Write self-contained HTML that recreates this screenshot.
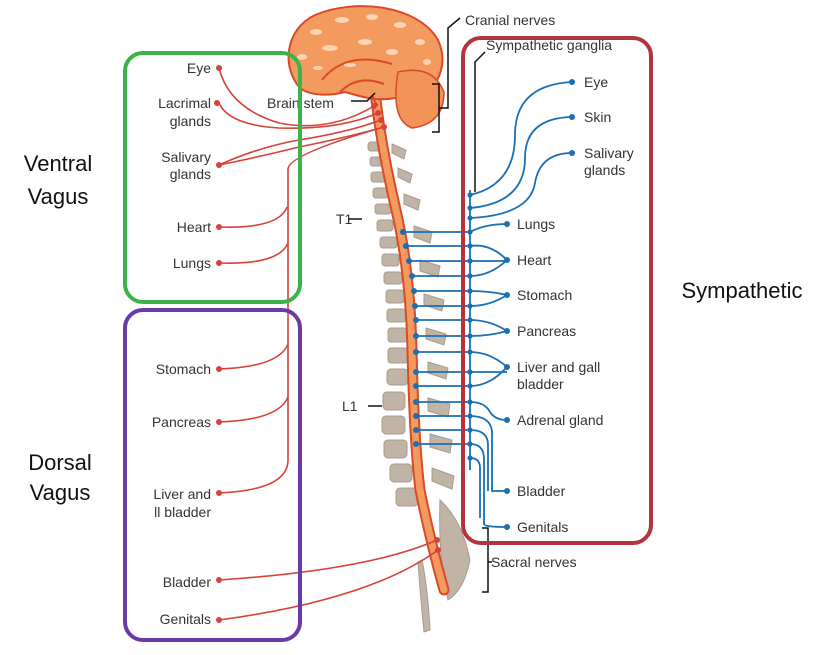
<!DOCTYPE html>
<html><head><meta charset="utf-8"><style>
html,body{margin:0;padding:0;background:#fff;width:837px;height:655px;overflow:hidden}
svg{display:block}
text{font-family:"Liberation Sans",sans-serif;font-size:14px;fill:#333}
.big{font-size:22px;fill:#111}
.r{stroke:#d9413a;stroke-width:1.6;fill:none}
.b{stroke:#1a6fb5;stroke-width:1.8;fill:none}
.v{fill:#bfb4a5;stroke:#a89c8c;stroke-width:1}
</style></head><body>
<svg width="837" height="655" viewBox="0 0 837 655">
<!-- vertebrae -->
<g class="v">
<rect x="368" y="142" width="14" height="9" rx="3"/><rect x="370" y="157" width="14" height="9" rx="3"/>
<rect x="371" y="172" width="15" height="10" rx="3"/><rect x="373" y="188" width="15" height="10" rx="3"/>
<rect x="375" y="204" width="16" height="10" rx="3"/><rect x="377" y="220" width="16" height="11" rx="3"/>
<rect x="380" y="237" width="17" height="11" rx="3"/><rect x="382" y="254" width="17" height="12" rx="3"/>
<rect x="384" y="272" width="18" height="12" rx="3"/><rect x="386" y="290" width="18" height="13" rx="3"/>
<rect x="387" y="309" width="19" height="13" rx="3"/><rect x="388" y="328" width="19" height="14" rx="3"/>
<rect x="388" y="348" width="20" height="15" rx="3"/><rect x="387" y="369" width="21" height="16" rx="4"/>
<rect x="383" y="392" width="22" height="18" rx="4"/><rect x="382" y="416" width="23" height="18" rx="4"/>
<rect x="384" y="440" width="23" height="18" rx="4"/><rect x="390" y="464" width="22" height="18" rx="4"/>
<rect x="396" y="488" width="22" height="18" rx="4"/>
<path d="M392 144 l14 6 l-2 9 l-12-6z M398 168 l14 6 l-2 9 l-12-6z M404 194 l16 6 l-2 10 l-14-6z M414 226 l18 6 l-2 11 l-16-6z M420 260 l20 6 l-2 11 l-18-6z M424 294 l20 6 l-2 11 l-18-6z M426 328 l20 6 l-2 11 l-18-6z M428 362 l20 6 l-2 11 l-18-6z M428 398 l22 6 l-2 13 l-20-6z M430 434 l22 6 l-2 13 l-20-6z M432 468 l22 8 l-2 13 l-20-8z"/>
<path d="M440 500 q22 20 30 60 q-6 30 -22 40 q-10 -40 -8 -100z"/>
<path d="M422 560 q6 30 8 70 l-6 2 q-4-40 -6-70z"/>
</g>
<!-- spinal cord -->
<path d="M376 100 q6 50 20 110 q14 60 16 140 q2 90 8 140 q10 50 24 100" stroke="#d94a2a" stroke-width="11" fill="none" stroke-linecap="round"/>
<path d="M376 100 q6 50 20 110 q14 60 16 140 q2 90 8 140 q10 50 24 100" stroke="#f39a5e" stroke-width="7" fill="none" stroke-linecap="round"/>
<!-- brain -->
<path d="M300 88 C282 68 284 30 315 15 C355 -2 418 5 438 40 C446 58 442 72 436 82 C420 95 405 100 395 98 C375 102 360 96 345 92 C330 96 310 96 300 88z" fill="#f39a5e" stroke="#d94a2a" stroke-width="2"/>
<path d="M398 72 q35 -8 46 20 q0 32 -32 36 q-22 -8 -14 -56z" fill="#f2935a" stroke="#d94a2a" stroke-width="1.5"/>
<path d="M322 80 q24 -30 70 -16 M340 92 q18 -18 44 -8 M372 95 q4 10 6 10" stroke="#d94a2a" stroke-width="2" fill="none"/>
<g fill="#fbd5b5"><ellipse cx="316" cy="32" rx="6" ry="3"/><ellipse cx="342" cy="20" rx="7" ry="3"/><ellipse cx="372" cy="17" rx="6" ry="3"/><ellipse cx="400" cy="25" rx="6" ry="3"/><ellipse cx="420" cy="42" rx="5" ry="3"/><ellipse cx="330" cy="48" rx="8" ry="3"/><ellipse cx="365" cy="42" rx="7" ry="3"/><ellipse cx="302" cy="57" rx="5" ry="3"/><ellipse cx="392" cy="52" rx="6" ry="3"/><ellipse cx="427" cy="62" rx="4" ry="3"/><ellipse cx="350" cy="65" rx="6" ry="2"/><ellipse cx="318" cy="68" rx="5" ry="2"/></g>
<g fill="#d9413a"><circle cx="374" cy="106" r="3"/><circle cx="378" cy="113" r="3"/><circle cx="381" cy="120" r="3"/><circle cx="384" cy="127" r="3"/><circle cx="437" cy="540" r="3"/><circle cx="438" cy="550" r="3"/></g>
<!-- black labels lines -->
<g stroke="#111" stroke-width="1.5" fill="none">
<path d="M432 84 h7 v48 h-7 M439 108 h9 v-80 l12 -10"/>
<path d="M485 52 l-10 10 v130"/>
<path d="M351 101 h16 l8 -8"/>
<path d="M348 219 h14 M368 406 h14"/>
<path d="M482 528 h6 v64 h-6 M488 562 h4"/>
</g>
<text x="465" y="25">Cranial nerves</text>
<text x="486" y="50">Sympathetic ganglia</text>
<text x="267" y="108">Brain stem</text>
<text x="336" y="224">T1</text>
<text x="342" y="411">L1</text>
<text x="491" y="567">Sacral nerves</text>
<!-- red nerves -->
<g class="r">
<path d="M219 68 q10 40 60 55 q50 10 95 -17"/>
<path d="M219 103 q10 22 60 25 q60 2 99 -15"/>
<path d="M219 165 q40 -18 80 -25 q50 -8 82 -20"/>
<path d="M219 165 q40 -8 80 -18 q50 -10 85 -20"/>
<path d="M288 170 q-2 -15 96 -43 M288 170 v290 q0 30 -69 33"/>
<path d="M219 227 q60 2 68 -20 M219 263 q60 2 69 -20 M219 369 q60 -2 69 -25 M219 422 q60 -2 69 -25"/>
<path d="M219 580 q150 -10 218 -40 M219 620 q150 -20 219 -70"/>
</g>
<g fill="#d9413a"><circle cx="219" cy="68" r="3"/><circle cx="217" cy="103" r="3"/><circle cx="219" cy="165" r="3"/><circle cx="219" cy="227" r="3"/><circle cx="219" cy="263" r="3"/><circle cx="219" cy="369" r="3"/><circle cx="219" cy="422" r="3"/><circle cx="219" cy="493" r="3"/><circle cx="219" cy="580" r="3"/><circle cx="219" cy="620" r="3"/></g>
<!-- left labels -->
<g text-anchor="end">
<text x="211" y="73">Eye</text>
<text x="211" y="108">Lacrimal</text><text x="211" y="126">glands</text>
<text x="211" y="162">Salivary</text><text x="211" y="179">glands</text>
<text x="211" y="232">Heart</text><text x="211" y="268">Lungs</text>
<text x="211" y="374">Stomach</text><text x="211" y="427">Pancreas</text>
<text x="211" y="499">Liver and</text><text x="211" y="517">ll bladder</text>
<text x="211" y="587">Bladder</text><text x="211" y="624">Genitals</text>
</g>
<!-- blue sympathetic -->
<g class="b">
<path d="M470 190 v280"/>
<path d="M403 232 h67 M406 246 h64 M409 261 h61 M412 276 h58 M414 291 h56 M415 306 h55 M416 320 h54 M416 336 h54 M416 352 h54 M416 372 h54 M416 386 h54 M416 402 h54 M416 416 h54 M416 430 h54 M416 444 h54"/>
<path d="M470 195 q45 -10 45 -60 q0 -50 57 -53 M470 208 q55 -5 55 -50 q0 -40 47 -41 M470 218 q60 -3 65 -35 q5 -30 37 -30"/>
<path d="M470 232 q15 -8 37 -8 M470 246 q20 -3 37 14 M470 261 h37 M470 276 q20 0 37 -16"/>
<path d="M470 291 q20 0 37 4 M470 306 q20 0 37 -11"/>
<path d="M470 320 q20 0 37 11 M470 336 q20 0 37 -5"/>
<path d="M470 352 q20 0 37 15 M470 372 h37 M470 386 q20 0 37 -19"/>
<path d="M470 402 q15 0 20 10 q5 8 17 8"/>
<path d="M470 416 q20 0 22 15 v60 h15 M470 430 q18 0 18 15 v46 M470 444 q14 0 14 15 v65 q0 3 23 3 M470 458 q10 0 10 10 v50"/>
</g>
<g fill="#1a6fb5">
<circle cx="572" cy="82" r="3"/><circle cx="572" cy="117" r="3"/><circle cx="572" cy="153" r="3"/>
<circle cx="507" cy="224" r="3"/><circle cx="507" cy="260" r="3"/><circle cx="507" cy="295" r="3"/><circle cx="507" cy="331" r="3"/><circle cx="507" cy="367" r="3"/><circle cx="507" cy="420" r="3"/><circle cx="507" cy="491" r="3"/><circle cx="507" cy="527" r="3"/>
<circle cx="470" cy="195" r="2.6"/><circle cx="470" cy="208" r="2.6"/><circle cx="470" cy="218" r="2.6"/><circle cx="470" cy="232" r="2.6"/><circle cx="470" cy="246" r="2.6"/><circle cx="470" cy="261" r="2.6"/><circle cx="470" cy="276" r="2.6"/><circle cx="470" cy="291" r="2.6"/><circle cx="470" cy="306" r="2.6"/><circle cx="470" cy="320" r="2.6"/><circle cx="470" cy="336" r="2.6"/><circle cx="470" cy="352" r="2.6"/><circle cx="470" cy="372" r="2.6"/><circle cx="470" cy="386" r="2.6"/><circle cx="470" cy="402" r="2.6"/><circle cx="470" cy="416" r="2.6"/><circle cx="470" cy="430" r="2.6"/><circle cx="470" cy="444" r="2.6"/><circle cx="470" cy="458" r="2.6"/>
<circle cx="403" cy="232" r="3"/><circle cx="406" cy="246" r="3"/><circle cx="409" cy="261" r="3"/><circle cx="412" cy="276" r="3"/><circle cx="414" cy="291" r="3"/><circle cx="415" cy="306" r="3"/><circle cx="416" cy="320" r="3"/><circle cx="416" cy="336" r="3"/><circle cx="416" cy="352" r="3"/><circle cx="416" cy="372" r="3"/><circle cx="416" cy="386" r="3"/><circle cx="416" cy="402" r="3"/><circle cx="416" cy="416" r="3"/><circle cx="416" cy="430" r="3"/><circle cx="416" cy="444" r="3"/>
</g>
<text x="584" y="87">Eye</text><text x="584" y="122">Skin</text>
<text x="584" y="158">Salivary</text><text x="584" y="175">glands</text>
<text x="517" y="229">Lungs</text><text x="517" y="265">Heart</text><text x="517" y="300">Stomach</text><text x="517" y="336">Pancreas</text>
<text x="517" y="372">Liver and gall</text><text x="517" y="389">bladder</text>
<text x="517" y="425">Adrenal gland</text><text x="517" y="496">Bladder</text><text x="517" y="532">Genitals</text>
<!-- boxes -->
<rect x="125" y="53" width="175" height="249" rx="18" fill="none" stroke="#3db24b" stroke-width="4"/>
<rect x="125" y="310" width="175" height="330" rx="18" fill="none" stroke="#6a3aa8" stroke-width="4"/>
<rect x="463" y="38" width="188" height="505" rx="18" fill="none" stroke="#b2343f" stroke-width="4"/>
<text class="big" x="58" y="171" text-anchor="middle">Ventral</text>
<text class="big" x="58" y="204" text-anchor="middle">Vagus</text>
<text class="big" x="60" y="470" text-anchor="middle">Dorsal</text>
<text class="big" x="60" y="500" text-anchor="middle">Vagus</text>
<text class="big" x="742" y="298" text-anchor="middle">Sympathetic</text>
</svg>
</body></html>
